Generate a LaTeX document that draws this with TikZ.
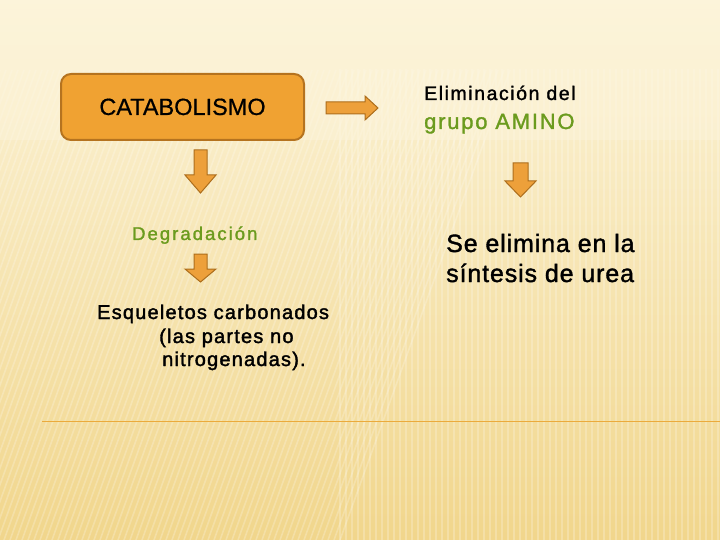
\documentclass[tikz,border=0pt]{standalone}
\usepackage{fontspec}
\setmainfont{Liberation Sans}
\newfontfamily\catfont[FakeBold=0.6]{Liberation Sans}
\newfontfamily\lsA[LetterSpace=8,FakeBold=1.4]{Liberation Sans}
\newfontfamily\lsB[LetterSpace=11,FakeBold=1.4]{Liberation Sans}
\newfontfamily\lsC[LetterSpace=3.5,FakeBold=1.4]{Liberation Sans}
\newfontfamily\lsD[LetterSpace=6,FakeBold=1.8]{Liberation Sans}
\definecolor{bgtop}{HTML}{FCF4DA}
\definecolor{bgbot}{HTML}{F1D68C}
\definecolor{boxfill}{HTML}{F0A232}
\definecolor{boxline}{HTML}{B5731F}
\definecolor{arrfill}{HTML}{EDA03A}
\definecolor{arrline}{HTML}{AD6E1C}
\definecolor{txtgreen}{HTML}{6B9B1E}
\definecolor{rulecol}{HTML}{EBAA3C}
\tikzset{
  mainbox/.style={draw=boxline, line width=2pt, fill=boxfill, rounded corners=10pt},
  blockarrow/.style={draw=arrline, line width=1pt, fill=arrfill, line join=miter},
  txt/.style={inner sep=0pt, anchor=base west},
}
\begin{document}
\begin{tikzpicture}[x=1pt,y=-1pt]
\useasboundingbox (0,0) rectangle (720,540);
% background
\shade[top color=bgtop, bottom color=bgbot] (0,0) rectangle (720,540);
\begin{scope}
  \clip (0,70) rectangle (720,540);
  \foreach \i in {-200,-194,...,340} {
    \draw[white, opacity=0.22, line width=1.6pt] (\i,540) -- (\i+170,70);
  }
  \foreach \i in {340,346,...,720} {
    \draw[white, opacity=0.22, line width=1.6pt] (\i,540) -- (\i,40);
  }
\end{scope}
\shade[top color=bgtop, bottom color=bgtop, opacity=0.5] (0,0) rectangle (720,140);
% main box
\draw[mainbox] (61,74) rectangle (304,140);
\node[inner sep=0pt, anchor=base, font=\catfont\fontsize{23.5}{28}\selectfont] (cat) at (182.5,115) {CATABOLISMO};
% texts
\node[txt, font=\lsA\fontsize{19.5}{23}\selectfont] (elim) at (424,100) {Eliminación del};
\node[txt, font=\lsA\fontsize{22}{26}\selectfont, text=txtgreen] (amino) at (424,129) {grupo AMINO};
\node[txt, font=\lsB\fontsize{18.5}{22}\selectfont, text=txtgreen] (degr) at (132,240) {Degradación};
\node[txt, font=\lsC\fontsize{25}{30}\selectfont] (se1) at (446,252) {Se elimina en la};
\node[txt, font=\lsC\fontsize{25}{30}\selectfont] (se2) at (446,282) {síntesis de urea};
\node[txt, font=\lsD\fontsize{20}{24}\selectfont] (esq1) at (97,319) {Esqueletos carbonados};
\node[txt, font=\lsD\fontsize{20}{24}\selectfont] (esq2) at (159,343) {(las partes no};
\node[txt, font=\lsD\fontsize{20}{24}\selectfont] (esq3) at (162,366) {nitrogenadas).};
% block arrows
\draw[blockarrow] (326,102) -- (365,102) -- (365,96) -- (378,108) -- (365,120) -- (365,114) -- (326,114) -- cycle;
\draw[blockarrow] (194,150) -- (207,150) -- (207,175) -- (216,175) -- (200.5,193) -- (185,175) -- (194,175) -- cycle;
\draw[blockarrow] (194,254) -- (207,254) -- (207,269) -- (216,269) -- (200.5,282) -- (185,269) -- (194,269) -- cycle;
\draw[blockarrow] (513,163) -- (528,163) -- (528,181) -- (536,181) -- (520.5,197) -- (505,181) -- (513,181) -- cycle;
% rule
\draw[rulecol, line width=0.8pt] (42,421) -- (720,421);
\end{tikzpicture}
\end{document}
